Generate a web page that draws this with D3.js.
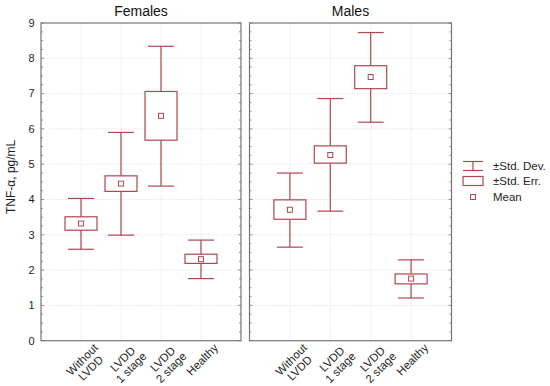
<!DOCTYPE html>
<html><head><meta charset="utf-8">
<script src="https://cdn.jsdelivr.net/npm/d3@7"></script>
<style>body{margin:0;background:#fff;} svg{display:block;font-family:"Liberation Sans",Arial,sans-serif;}</style>
</head><body><svg width="550" height="386"></svg>
<script>
const categories = ["Without\nLVDD", "LVDD\n1 stage", "LVDD\n2 stage", "Healthy"];
const panels = ["Females", "Males"];
const yTicks = [0,1,2,3,4,5,6,7,8,9];
const femalesMean = [3.32, 4.45, 6.37, 2.31];
const femalesSeLo = [3.13, 4.23, 5.68, 2.19];
const femalesSeHi = [3.51, 4.67, 7.06, 2.45];
const femalesSdLo = [2.59, 2.99, 4.38, 1.76];
const femalesSdHi = [4.03, 5.90, 8.34, 2.85];
const malesMean = [3.71, 5.26, 7.47, 1.76];
const malesSeLo = [3.44, 5.03, 7.14, 1.61];
const malesSeHi = [3.99, 5.52, 7.79, 1.89];
const malesSdLo = [2.65, 3.67, 6.19, 1.21];
const malesSdHi = [4.75, 6.86, 8.73, 2.29];
const legendLabels = ["±Std. Dev.", "±Std. Err.", "Mean"];

const data = [
  {mean: femalesMean, seLo: femalesSeLo, seHi: femalesSeHi, sdLo: femalesSdLo, sdHi: femalesSdHi},
  {mean: malesMean, seLo: malesSeLo, seHi: malesSeHi, sdLo: malesSdLo, sdHi: malesSdHi}
];

const svg = d3.select("svg");
const col = "#b0464e";
const frame = "#767676";
const textCol = "#1e1e1e";
const plotTop = 23, plotBottom = 340.7;
const y = d3.scaleLinear().domain([0, 9]).range([plotBottom, plotTop]);
const panelX = [[41, 241], [249.5, 451.5]];

// y axis title
svg.append("text").attr("transform", `translate(11,${(plotTop+plotBottom)/2 - 5}) rotate(-90)`)
  .attr("text-anchor","middle").attr("dy","0.35em").attr("font-size", 12).attr("fill",textCol).text("TNF-α, pg/mL");

// y tick labels
svg.append("g").selectAll("text").data(yTicks).join("text")
  .attr("x", 34.5).attr("y", d => y(d)).attr("dy","0.35em").attr("text-anchor","end")
  .attr("font-size", 11).attr("fill",textCol).text(d => d);

panels.forEach((name, pi) => {
  const [x0, x1] = panelX[pi];
  const x = d3.scalePoint().domain(categories).range([x0, x1]).padding(1);
  const g = svg.append("g");
  // grid
  g.selectAll(".hg").data(yTicks.slice(1, -1)).join("line")
    .attr("x1", x0).attr("x2", x1).attr("y1", d => y(d)).attr("y2", d => y(d))
    .attr("stroke", "#d6d6d6").attr("stroke-dasharray", "1,1.5").attr("stroke-width", 0.8);
  g.selectAll(".vg").data(categories).join("line")
    .attr("x1", d => x(d)).attr("x2", d => x(d)).attr("y1", plotTop).attr("y2", plotBottom)
    .attr("stroke", "#d6d6d6").attr("stroke-dasharray", "1,1.5").attr("stroke-width", 0.8);
  // minor ticks on edges
  const minor = d3.range(0, 9.001, 0.25);
  g.selectAll(".mt").data(minor).join("line")
    .attr("x1", x0).attr("x2", d => x0 + (Number.isInteger(d) ? 3 : 2)).attr("y1", d => y(d)).attr("y2", d => y(d))
    .attr("stroke", frame).attr("stroke-width", 0.8);
  g.selectAll(".mt2").data(minor).join("line")
    .attr("x1", x1).attr("x2", d => x1 - (Number.isInteger(d) ? 3 : 2)).attr("y1", d => y(d)).attr("y2", d => y(d))
    .attr("stroke", frame).attr("stroke-width", 0.8);
  // frame
  g.append("rect").attr("x", x0).attr("y", plotTop).attr("width", x1 - x0).attr("height", plotBottom - plotTop)
    .attr("fill", "none").attr("stroke", frame).attr("stroke-width", 1.2);
  // title
  svg.append("text").attr("x", (x0 + x1) / 2).attr("y", 15.5).attr("text-anchor","middle")
    .attr("font-size", 14).attr("fill","#111").text(name);

  const d = data[pi];
  const items = categories.map((c, i) => ({c, mean: d.mean[i], seLo: d.seLo[i], seHi: d.seHi[i], sdLo: d.sdLo[i], sdHi: d.sdHi[i]}));
  const bw = 32, cw = 26, ms = 5;
  const it = g.selectAll(".item").data(items).join("g");
  it.append("line").attr("x1", v => x(v.c)).attr("x2", v => x(v.c)).attr("y1", v => y(v.sdHi)).attr("y2", v => y(v.sdLo))
    .attr("stroke", col).attr("stroke-width", 1.2);
  it.append("line").attr("x1", v => x(v.c) - cw/2).attr("x2", v => x(v.c) + cw/2).attr("y1", v => y(v.sdHi)).attr("y2", v => y(v.sdHi))
    .attr("stroke", col).attr("stroke-width", 1.2);
  it.append("line").attr("x1", v => x(v.c) - cw/2).attr("x2", v => x(v.c) + cw/2).attr("y1", v => y(v.sdLo)).attr("y2", v => y(v.sdLo))
    .attr("stroke", col).attr("stroke-width", 1.2);
  it.append("rect").attr("x", v => x(v.c) - bw/2).attr("width", bw).attr("y", v => y(v.seHi)).attr("height", v => y(v.seLo) - y(v.seHi))
    .attr("fill", "#fff").attr("stroke", col).attr("stroke-width", 1.2);
  it.append("rect").attr("x", v => x(v.c) - ms/2).attr("width", ms).attr("y", v => y(v.mean) - ms/2).attr("height", ms)
    .attr("fill", "#fff").attr("stroke", col).attr("stroke-width", 1);

  // x labels: rotated, centered lines, block's right edge at anchor
  const lh = 12;
  const lab = g.selectAll(".xl").data(categories).join("text")
    .attr("transform", c => `translate(${x(c) + 15},${plotBottom + 5}) rotate(-45)`)
    .attr("text-anchor", "middle").attr("font-size", 11.5).attr("fill", textCol);
  lab.each(function(c) {
    const lines = c.split("\n");
    const t = d3.select(this);
    const spans = lines.map((l, li) => t.append("tspan").attr("y", li * lh).attr("dy", "0.35em").text(l));
    const W = d3.max(spans, s => s.node().getComputedTextLength());
    spans.forEach(s => s.attr("x", -W / 2));
  });
});

// legend
const lg = svg.append("g");
const lx = 463, lw = 20;
const ly = [166, 181, 197];
lg.append("line").attr("x1", lx).attr("x2", lx + lw).attr("y1", ly[0] - 4.5).attr("y2", ly[0] - 4.5).attr("stroke", col).attr("stroke-width", 1.2);
lg.append("line").attr("x1", lx).attr("x2", lx + lw).attr("y1", ly[0] + 4.5).attr("y2", ly[0] + 4.5).attr("stroke", col).attr("stroke-width", 1.2);
lg.append("line").attr("x1", lx + lw/2).attr("x2", lx + lw/2).attr("y1", ly[0] - 4.5).attr("y2", ly[0] + 4.5).attr("stroke", col).attr("stroke-width", 1.2);
lg.append("rect").attr("x", lx).attr("y", ly[1] - 4.5).attr("width", lw).attr("height", 9).attr("fill", "#fff").attr("stroke", col).attr("stroke-width", 1.2);
lg.append("rect").attr("x", lx + lw/2 - 2.5).attr("y", ly[2] - 2.5).attr("width", 5).attr("height", 5).attr("fill", "#fff").attr("stroke", col).attr("stroke-width", 1);
lg.selectAll("text").data(legendLabels).join("text")
  .attr("x", 493).attr("y", (d, i) => ly[i]).attr("dy", "0.35em").attr("font-size", 11.5).attr("fill", textCol).text(d => d);
</script></body></html>
